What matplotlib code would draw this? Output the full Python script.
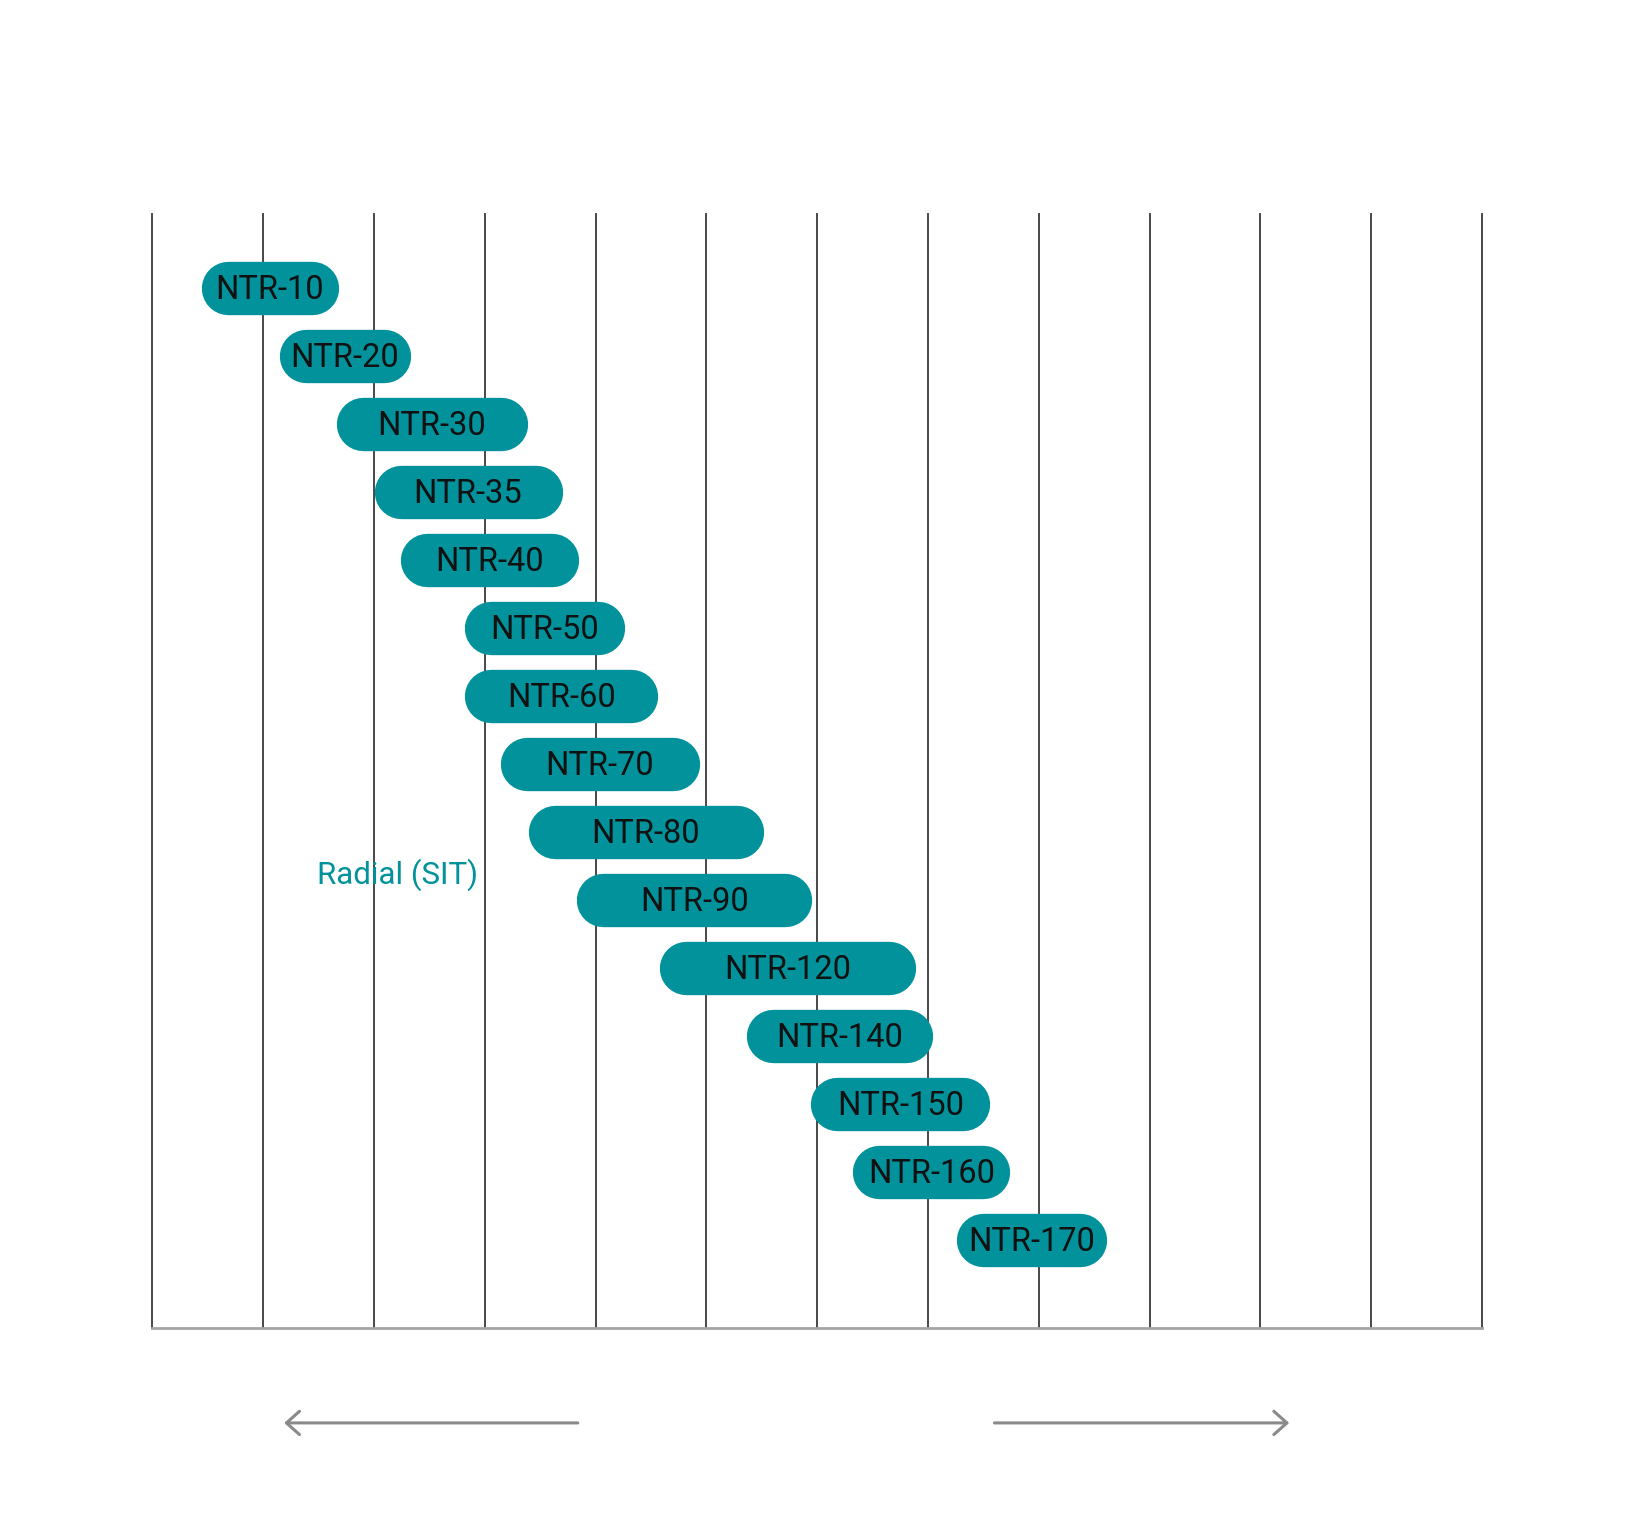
import matplotlib.pyplot as plt

# product ranges, in grid-column units (0..12), one row each from top
models = ["NTR-10", "NTR-20", "NTR-30", "NTR-35", "NTR-40", "NTR-50", "NTR-60",
          "NTR-70", "NTR-80", "NTR-90", "NTR-120", "NTR-140", "NTR-150",
          "NTR-160", "NTR-170"]
range_start = [0.44, 1.15, 1.66, 2.00, 2.24, 2.82, 2.82, 3.14, 3.39, 3.83,
               4.58, 5.36, 5.94, 6.32, 7.26]
range_end = [1.68, 2.33, 3.39, 3.70, 3.85, 4.26, 4.56, 4.94, 5.52, 5.95,
             6.89, 7.04, 7.56, 7.74, 8.61]
n_cols = 12
group_label = "Radial (SIT)"

teal = "#02929b"
plt.rcParams['font.family'] = ['Roboto', 'DejaVu Sans']

fig = plt.figure(figsize=(16.42, 15.22), dpi=100)
ax = fig.add_axes([0, 0, 1, 1])
ax.set_xlim(-1.3745, 13.444)
ax.set_ylim(18.147, -4.235)
ax.axis('off')

# vertical grid
for k in range(n_cols + 1):
    ax.plot([k, k], [-1.09, 15.29], color="#474747", lw=1.4, zorder=1)
ax.plot([0, n_cols], [15.29, 15.29], color="#a3a3a3", lw=2.0, zorder=1)

# pills: thick lines with round caps
pill_h = 38.4  # points
r = 0.2405     # cap radius in x units
for i, (name, a, b) in enumerate(zip(models, range_start, range_end)):
    ax.plot([a + r, b - r], [i, i], color=teal, lw=pill_h,
            solid_capstyle='round', zorder=2)
    ax.text((a + b) / 2, i + 0.155, name, ha='center', va='baseline',
            fontsize=23.5, color="#111111", zorder=3)

ax.text(1.49, 8.765, group_label, ha='left', va='baseline',
        fontsize=22.5, color=teal, zorder=3)

# direction arrows under the axis
arrow_kw = dict(arrowstyle="->,head_length=0.47,head_width=0.42",
                color="#8a8a8a", lw=2.2, mutation_scale=20,
                shrinkA=0, shrinkB=0)
ax.annotate("", xy=(1.19, 16.69), xytext=(3.84, 16.69), arrowprops=arrow_kw)
ax.annotate("", xy=(10.26, 16.69), xytext=(7.60, 16.69), arrowprops=arrow_kw)

fig.savefig("out.png", dpi=100)
